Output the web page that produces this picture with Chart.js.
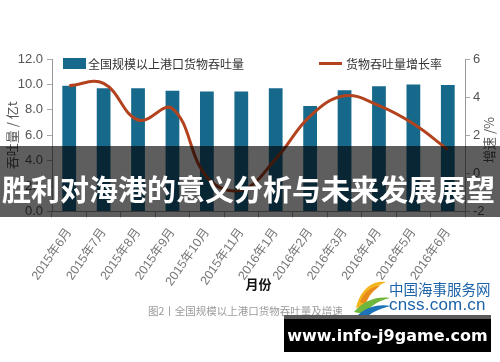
<!DOCTYPE html>
<html>
<head>
<meta charset="utf-8">
<script src="https://cdn.jsdelivr.net/npm/chart.js@4/dist/chart.umd.min.js"></script>
<style>
  html,body{margin:0;padding:0;background:#fff;}
  #wrap{position:relative;width:500px;height:362px;overflow:hidden;background:#fff;font-family:"Noto Sans CJK SC","Liberation Sans",sans-serif;}
  #c{position:absolute;left:0;top:0;}
  .abs{position:absolute;white-space:nowrap;}
</style>
</head>
<body>
<div id="wrap">
  <canvas id="c" width="500" height="362"></canvas>
  <!-- legend -->
  <div class="abs" style="left:63px;top:58px;width:23px;height:11px;background:#17698c;"></div>
  <div class="abs" style="left:88px;top:55px;font-size:12px;line-height:18px;color:#333;">全国规模以上港口货物吞吐量</div>
  <div class="abs" style="left:319px;top:62px;width:23px;height:3px;background:#b3431f;"></div>
  <div class="abs" style="left:346px;top:55px;font-size:12px;line-height:18px;color:#333;">货物吞吐量增长率</div>
  <!-- caption -->
  <div class="abs" style="left:148px;top:303px;font-size:10.5px;line-height:16px;color:#9a9a9a;">图2丨全国规模以上港口货物吞吐量及增速</div>
  <!-- logo -->
  <svg class="abs" style="left:350px;top:278px;" width="42" height="38" viewBox="0 0 42 38">
    <path d="M6 30 C10 12 22 2 36 4 C26 8 18 16 14 28 Z" fill="#f3b61f"/>
    <path d="M10 24 C14 14 22 8 30 8 C24 12 18 18 16 26 Z" fill="#e98a1c"/>
    <path d="M4 34 C14 22 28 18 40 20 C30 22 20 28 14 36 Z" fill="#6fb63c"/>
    <path d="M8 37 C18 28 30 26 41 28 C32 30 24 33 18 38 Z" fill="#1c73b8"/>
  </svg>
  <div class="abs" style="left:389px;top:280px;font-size:14.5px;line-height:18px;color:#1c63a8;">中国海事服务网</div>
  <div class="abs" style="left:389px;top:295px;font-size:17px;line-height:20px;color:#1c63a8;font-family:'Liberation Sans',Arial,sans-serif;letter-spacing:0.2px;">cnss.com.cn</div>
  <!-- banner -->
  <div class="abs" style="left:0;top:146px;width:500px;height:71px;background:rgba(0,0,0,0.63);"></div>
  <div class="abs" style="left:2px;top:168px;font-size:29px;line-height:40px;font-weight:bold;color:#fff;">胜利对海港的意义分析与未来发展展望</div>
  <!-- watermark -->
  <div class="abs" style="left:284px;top:315px;width:207px;height:37px;background:#000;"></div>
  <div class="abs" style="left:284px;top:315px;width:207px;height:4px;background:#5a5a5a;"></div>
  <div class="abs" style="left:284px;top:324px;width:207px;text-align:center;font-size:16px;line-height:24px;font-weight:bold;color:#fff;font-family:'DejaVu Sans',sans-serif;">www.info-j9game.com</div>
</div>
<script>
const categories = ["2015年6月","2015年7月","2015年8月","2015年9月","2015年10月","2015年11月","2016年1月","2016年2月","2016年3月","2016年4月","2016年5月","2016年6月"];
const throughput = [9.9, 9.7, 9.7, 9.5, 9.45, 9.45, 9.7, 8.3, 9.55, 9.85, 10.0, 9.95];
const growthRate = [4.6, 4.72, 2.8, 3.4, -0.2, -0.88, 0.75, 3.0, 4.07, 3.55, 2.6, 1.25];
const leftTicks = [0, 2, 4, 6, 8, 10, 12];
const rightTicks = [-2, 0, 2, 4, 6];

const tickFont = {family: "'Liberation Sans Narrow','Liberation Sans','Noto Sans CJK SC',sans-serif", size: 13};

const rightTitle = {
  id: 'rightTitle',
  afterDraw(chart) {
    const ctx = chart.ctx;
    ctx.save();
    ctx.translate(489, 140);
    ctx.rotate(-Math.PI / 2);
    ctx.font = "13px 'Noto Sans CJK SC', sans-serif";
    ctx.fillStyle = '#555';
    ctx.textAlign = 'center';
    ctx.textBaseline = 'middle';
    ctx.fillText('增速 /%', 0, 0);
    ctx.restore();
  }
};

new Chart(document.getElementById('c'), {
  data: {
    labels: categories,
    datasets: [
      {
        type: 'line',
        label: '货物吞吐量增长率',
        data: growthRate,
        yAxisID: 'y1',
        borderColor: '#b3431f',
        borderWidth: 3,
        pointRadius: 0,
        tension: 0.4,
        fill: false,
        order: 0
      },
      {
        type: 'bar',
        label: '全国规模以上港口货物吞吐量',
        data: throughput,
        yAxisID: 'y',
        backgroundColor: '#17698c',
        barPercentage: 0.4,
        categoryPercentage: 1.0,
        order: 1
      }
    ]
  },
  options: {
    responsive: false,
    animation: false,
    events: [],
    layout: {padding: {left: 0, right: 0, top: 59, bottom: 70.5}},
    plugins: {legend: {display: false}, tooltip: {enabled: false}},
    scales: {
      x: {
        offset: true,
        grid: {display: true, drawOnChartArea: false, drawTicks: true, tickLength: 6, offset: true, color: '#aaa'},
        border: {display: true, color: '#999'},
        ticks: {maxRotation: 55, minRotation: 55, autoSkip: false, color: '#777', padding: 8,
                font: {family: "'Liberation Sans Narrow','Liberation Sans','Noto Sans CJK SC',sans-serif", size: 12.5}},
        title: {display: true, text: '月份', color: '#111', font: {size: 13, weight: 'bold', family: "'Noto Sans CJK SC',sans-serif"}, padding: {top: 0, bottom: 0}},
        afterFit(scale) { scale.height = 80; }
      },
      y: {
        position: 'left',
        min: 0, max: 12,
        afterBuildTicks(scale) { scale.ticks = leftTicks.map(v => ({value: v})); },
        ticks: {color: '#555', font: tickFont, padding: 4, callback: v => Number(v).toFixed(1)},
        grid: {display: true, drawOnChartArea: false, drawTicks: true, tickLength: 5, color: '#aaa'},
        border: {display: true, color: '#999'},
        title: {display: true, text: '吞吐量 / 亿t', color: '#555', font: {size: 13, family: "'Noto Sans CJK SC',sans-serif"}, padding: {top: 4, bottom: 0}},
        afterFit(scale) { scale.width = 52; }
      },
      y1: {
        position: 'right',
        min: -2, max: 6,
        afterBuildTicks(scale) { scale.ticks = rightTicks.map(v => ({value: v})); },
        ticks: {color: '#555', font: {family: tickFont.family, size: 13}, padding: 3},
        grid: {display: true, drawOnChartArea: false, drawTicks: true, tickLength: 5, color: '#aaa'},
        border: {display: true, color: '#999'},
        afterFit(scale) { scale.width = 35; }
      }
    }
  },
  plugins: [rightTitle]
});
</script>
</body>
</html>
